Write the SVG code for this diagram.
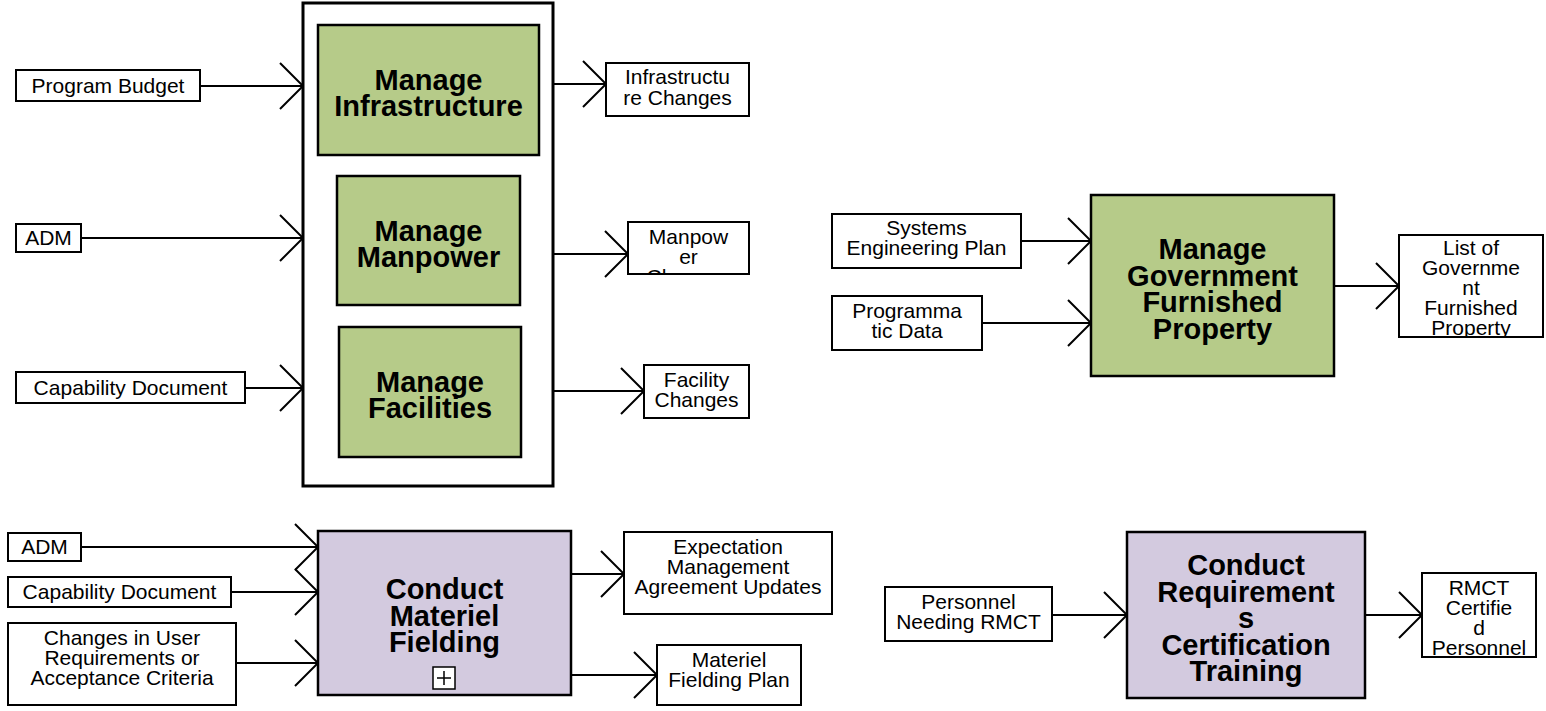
<svg xmlns="http://www.w3.org/2000/svg" width="1546" height="711" viewBox="0 0 1546 711">
<style>
  .io { fill: #ffffff; stroke: #000; stroke-width: 2; }
  .fn { fill: #b6cb89; stroke: #000; stroke-width: 2.5; }
  .fp { fill: #d3cadf; stroke: #000; stroke-width: 2.5; }
  .ct { fill: #ffffff; stroke: #000; stroke-width: 3; }
  .t { font-family: "Liberation Sans", Arial, sans-serif; font-size: 21px; fill: #000; text-anchor: middle; }
  .b { font-family: "Liberation Sans", Arial, sans-serif; font-size: 29px; font-weight: bold; fill: #000; text-anchor: middle; }
  .c { fill: none; stroke: #000; stroke-width: 2; marker-end: url(#arr); }
</style>
<defs>
  <marker id="arr" markerUnits="userSpaceOnUse" viewBox="-26 -26 28 52" markerWidth="28" markerHeight="52" refX="0" refY="0" orient="auto" overflow="visible">
    <path d="M-23,-23 L0,0 L-23,23" fill="none" stroke="#000" stroke-width="2"/>
  </marker>
  <clipPath id="clipMan"><rect x="628" y="222" width="121" height="52"/></clipPath>
  <clipPath id="clipGfp"><rect x="1399" y="235" width="144" height="102"/></clipPath>
  <clipPath id="clipRmct"><rect x="1422" y="573" width="114" height="84"/></clipPath>
</defs>
<rect width="1546" height="711" fill="#ffffff"/>

<g id="connectors">
  <line class="c" x1="200" y1="86" x2="303" y2="86"/>
  <line class="c" x1="81" y1="238" x2="303" y2="238"/>
  <line class="c" x1="245" y1="388" x2="303" y2="388"/>
  <line class="c" x1="553" y1="84" x2="606" y2="84"/>
  <line class="c" x1="553" y1="254" x2="628" y2="254"/>
  <line class="c" x1="553" y1="391" x2="644" y2="391"/>
  <line class="c" x1="1021" y1="241" x2="1091" y2="241"/>
  <line class="c" x1="982" y1="323" x2="1091" y2="323"/>
  <line class="c" x1="1334" y1="286" x2="1399" y2="286"/>
  <line class="c" x1="81" y1="547" x2="318" y2="547"/>
  <line class="c" x1="231" y1="592" x2="318" y2="592"/>
  <line class="c" x1="236" y1="663" x2="318" y2="663"/>
  <line class="c" x1="571" y1="574" x2="624" y2="574"/>
  <line class="c" x1="571" y1="675" x2="657" y2="675"/>
  <line class="c" x1="1052" y1="615" x2="1127" y2="615"/>
  <line class="c" x1="1365" y1="615" x2="1422" y2="615"/>
</g>

<g id="container">
  <rect class="ct" x="303" y="3" width="250" height="483"/>
</g>

<g id="manage-infrastructure">
  <rect class="fn" x="318" y="25" width="221" height="130"/>
  <text class="b" x="428.5" y="90">Manage</text>
  <text class="b" x="428.5" y="116">Infrastructure</text>
</g>
<g id="manage-manpower">
  <rect class="fn" x="337" y="176" width="183" height="129"/>
  <text class="b" x="428.5" y="241">Manage</text>
  <text class="b" x="428.5" y="267">Manpower</text>
</g>
<g id="manage-facilities">
  <rect class="fn" x="339" y="327" width="182" height="130"/>
  <text class="b" x="430" y="392">Manage</text>
  <text class="b" x="430" y="418">Facilities</text>
</g>

<g id="program-budget">
  <rect class="io" x="16" y="70" width="184" height="31"/>
  <text class="t" x="108" y="93">Program Budget</text>
</g>
<g id="adm-1">
  <rect class="io" x="16" y="224" width="65" height="28"/>
  <text class="t" x="48.5" y="245">ADM</text>
</g>
<g id="capability-document-1">
  <rect class="io" x="16" y="372" width="229" height="31"/>
  <text class="t" x="130.5" y="395">Capability Document</text>
</g>

<g id="infrastructure-changes">
  <rect class="io" x="606" y="63" width="143" height="53"/>
  <text class="t" x="677.5" y="84">Infrastructu</text>
  <text class="t" x="677.5" y="105">re Changes</text>
</g>
<g id="manpower-changes">
  <rect class="io" x="628" y="222" width="121" height="52"/>
  <g clip-path="url(#clipMan)">
    <text class="t" x="688.5" y="244">Manpow</text>
    <text class="t" x="688.5" y="264">er</text>
    <text class="t" x="688.5" y="284">Changes</text>
  </g>
</g>
<g id="facility-changes">
  <rect class="io" x="644" y="365" width="105" height="53"/>
  <text class="t" x="696.5" y="387">Facility</text>
  <text class="t" x="696.5" y="407">Changes</text>
</g>

<g id="manage-gfp">
  <rect class="fn" x="1091" y="195" width="243" height="181"/>
  <text class="b" x="1212.5" y="259">Manage</text>
  <text class="b" x="1212.5" y="286">Government</text>
  <text class="b" x="1212.5" y="312">Furnished</text>
  <text class="b" x="1212.5" y="339">Property</text>
</g>
<g id="systems-engineering-plan">
  <rect class="io" x="832" y="214" width="189" height="54"/>
  <text class="t" x="926.5" y="235">Systems</text>
  <text class="t" x="926.5" y="255">Engineering Plan</text>
</g>
<g id="programmatic-data">
  <rect class="io" x="832" y="296" width="150" height="54"/>
  <text class="t" x="907" y="318">Programma</text>
  <text class="t" x="907" y="338">tic Data</text>
</g>
<g id="list-of-gfp">
  <rect class="io" x="1399" y="235" width="144" height="102"/>
  <g clip-path="url(#clipGfp)">
    <text class="t" x="1471" y="255">List of</text>
    <text class="t" x="1471" y="275">Governme</text>
    <text class="t" x="1471" y="295">nt</text>
    <text class="t" x="1471" y="315">Furnished</text>
    <text class="t" x="1471" y="335">Property</text>
  </g>
</g>

<g id="conduct-materiel-fielding">
  <rect class="fp" x="318" y="531" width="253" height="164"/>
  <text class="b" x="444.5" y="599">Conduct</text>
  <text class="b" x="444.5" y="626">Materiel</text>
  <text class="b" x="444.5" y="652">Fielding</text>
  <rect x="433" y="667" width="22" height="22" fill="#ffffff" stroke="#000" stroke-width="1.5"/>
  <path d="M437,678 H451 M444,671 V685" stroke="#000" stroke-width="1.5" fill="none"/>
</g>
<g id="adm-2">
  <rect class="io" x="8" y="533" width="73" height="28"/>
  <text class="t" x="44.5" y="554">ADM</text>
</g>
<g id="capability-document-2">
  <rect class="io" x="8" y="577" width="223" height="30"/>
  <text class="t" x="119.5" y="599">Capability Document</text>
</g>
<g id="changes-in-user-requirements">
  <rect class="io" x="8" y="623" width="228" height="82"/>
  <text class="t" x="122" y="645">Changes in User</text>
  <text class="t" x="122" y="665">Requirements or</text>
  <text class="t" x="122" y="685">Acceptance Criteria</text>
</g>
<g id="expectation-management">
  <rect class="io" x="624" y="532" width="208" height="82"/>
  <text class="t" x="728" y="554">Expectation</text>
  <text class="t" x="728" y="574">Management</text>
  <text class="t" x="728" y="594">Agreement Updates</text>
</g>
<g id="materiel-fielding-plan">
  <rect class="io" x="657" y="645" width="144" height="60"/>
  <text class="t" x="729" y="667">Materiel</text>
  <text class="t" x="729" y="687">Fielding Plan</text>
</g>

<g id="conduct-rmct">
  <rect class="fp" x="1127" y="532" width="238" height="166"/>
  <text class="b" x="1246" y="575">Conduct</text>
  <text class="b" x="1246" y="602">Requirement</text>
  <text class="b" x="1246" y="628">s</text>
  <text class="b" x="1246" y="655">Certification</text>
  <text class="b" x="1246" y="681">Training</text>
</g>
<g id="personnel-needing-rmct">
  <rect class="io" x="885" y="587" width="167" height="54"/>
  <text class="t" x="968.5" y="609">Personnel</text>
  <text class="t" x="968.5" y="629">Needing RMCT</text>
</g>
<g id="rmct-certified-personnel">
  <rect class="io" x="1422" y="573" width="114" height="84"/>
  <g clip-path="url(#clipRmct)">
    <text class="t" x="1479" y="595">RMCT</text>
    <text class="t" x="1479" y="615">Certifie</text>
    <text class="t" x="1479" y="635">d</text>
    <text class="t" x="1479" y="655">Personnel</text>
  </g>
</g>
</svg>
